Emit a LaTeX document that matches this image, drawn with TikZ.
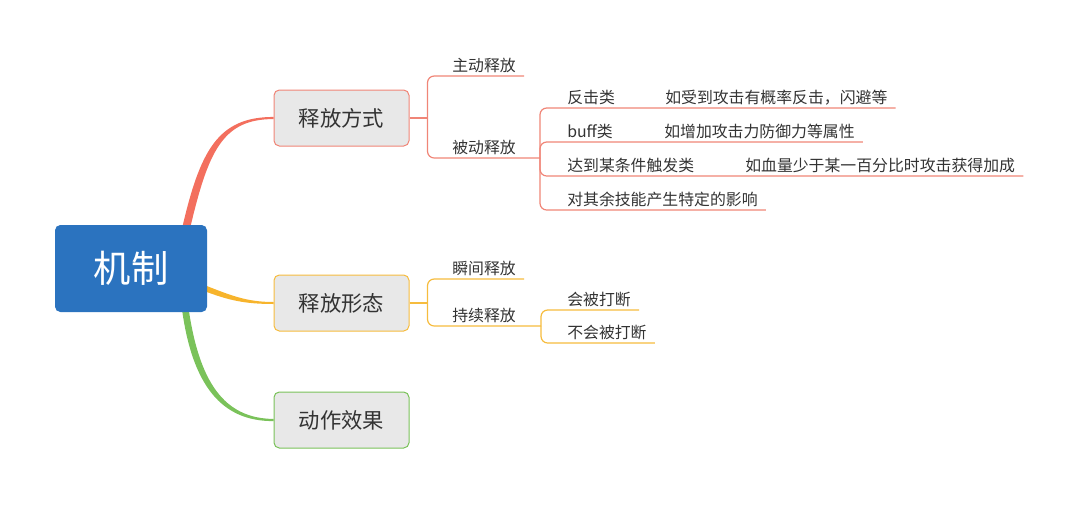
\documentclass[tikz,border=0pt]{standalone}
\usepackage{fontspec}
\setmainfont{Noto Sans CJK SC}
\usetikzlibrary{positioning, backgrounds}
\definecolor{rootblue}{HTML}{2B73BF}
\definecolor{topicgray}{HTML}{E8E8E8}
\definecolor{textgray}{HTML}{333333}
\definecolor{redbranch}{HTML}{F36F5E}
\definecolor{redline}{HTML}{F08577}
\definecolor{yellowbranch}{HTML}{F7B42C}
\definecolor{yellowline}{HTML}{F6BC3E}
\definecolor{greenbranch}{HTML}{7AC25A}
\tikzstyle{root} = [
    rectangle, rounded corners=4pt, minimum width=114pt, minimum height=65.25pt,
    fill=rootblue, text=white, font=\fontsize{28}{32}\selectfont
]
\tikzstyle{topic} = [
    rectangle, rounded corners=4pt, minimum width=101.25pt, minimum height=42pt,
    fill=topicgray, line width=0.75pt, text=textgray, font=\fontsize{16}{19}\selectfont
]
\tikzstyle{leaf} = [
    anchor=south west, inner xsep=6pt, inner ysep=2pt,
    text=textgray, font=\fontsize{11.9}{14}\selectfont
]
\tikzstyle{link} = [line width=0.9pt, rounded corners=5pt]

\begin{document}
\begin{tikzpicture}[x=0.75pt, y=-0.75pt]
    \useasboundingbox (0,0) rectangle (1080,504);
    % Nodes
    \node[root] (root) at (131,268.5) {机制};
    \node[topic, draw=redline] (fs) at (341.5,118) {释放方式};
    \node[topic, draw=yellowline] (ft) at (341.5,303) {释放形态};
    \node[topic, draw=greenbranch] (dz) at (341.5,420) {动作效果};
    \node[leaf] (zd) at (444,76) {主动释放};
    \node[leaf] (bd) at (444,158) {被动释放};
    \node[leaf] (fj) at (559,108) {反击类};
    \node[leaf] (rs) at (657,108) {如受到攻击有概率反击，闪避等};
    \node[leaf] (bf) at (559,142) {buff类};
    \node[leaf] (zj) at (656,142) {如增加攻击力防御力等属性};
    \node[leaf] (dd) at (559,176) {达到某条件触发类};
    \node[leaf] (xl) at (737,176) {如血量少于某一百分比时攻击获得加成};
    \node[leaf] (dq) at (559,210) {对其余技能产生特定的影响};
    \node[leaf] (sj) at (444,279) {瞬间释放};
    \node[leaf] (cx) at (444,326) {持续释放};
    \node[leaf] (hb) at (559,310) {会被打断};
    \node[leaf] (bh) at (559,343) {不会被打断};
    \coordinate (j1) at ([xshift=13.5pt]fs.east);
    \coordinate (j2) at (540,158);
    \coordinate (j3) at ([xshift=13.5pt]ft.east);
    \coordinate (j4) at (541,326);
    % Main branches (tapered)
    \begin{scope}[on background layer]
    \fill[redbranch] ([xshift=38pt,yshift=-4pt]root.north) .. controls (200,150) and (218,117) .. ([yshift=0.8pt]fs.west)
        -- ([yshift=-0.8pt]fs.west) .. controls (222,119) and (208,152) .. ([xshift=44pt,yshift=-4pt]root.north) -- cycle;
    \fill[yellowbranch] ([xshift=-2pt,yshift=-12.5pt]root.east) .. controls (230,295) and (246,302) .. ([yshift=0.75pt]ft.west)
        -- ([yshift=-0.75pt]ft.west) .. controls (244,304) and (228,300) .. ([xshift=-2pt,yshift=-17pt]root.east) -- cycle;
    \fill[greenbranch] ([xshift=38pt,yshift=4pt]root.south) .. controls (192,386) and (222,421.5) .. ([yshift=-0.8pt]dz.west)
        -- ([yshift=0.8pt]dz.west) .. controls (224,418.5) and (199,382) .. ([xshift=43pt,yshift=4pt]root.south) -- cycle;
    \end{scope}
    % Sub branches
    \draw[link, redline] (fs.east) -- (j1);
    \draw[link, redline] (j1) |- (zd.south east);
    \draw[link, redline] (j1) |- (bd.south east) -- (j2);
    \draw[link, redline] (j2) |- (fj.south east) -- (rs.south east);
    \draw[link, redline] (j2) |- (bf.south east) -- (zj.south east);
    \draw[link, redline] (j2) |- (dd.south east) -- (xl.south east);
    \draw[link, redline] (j2) |- (dq.south east);
    \draw[link, yellowline] (ft.east) -- (j3);
    \draw[link, yellowline] (j3) |- (sj.south east);
    \draw[link, yellowline] (j3) |- (cx.south east) -- (j4);
    \draw[link, yellowline] (j4) |- (hb.south east);
    \draw[link, yellowline] (j4) |- (bh.south east);
\end{tikzpicture}
\end{document}
